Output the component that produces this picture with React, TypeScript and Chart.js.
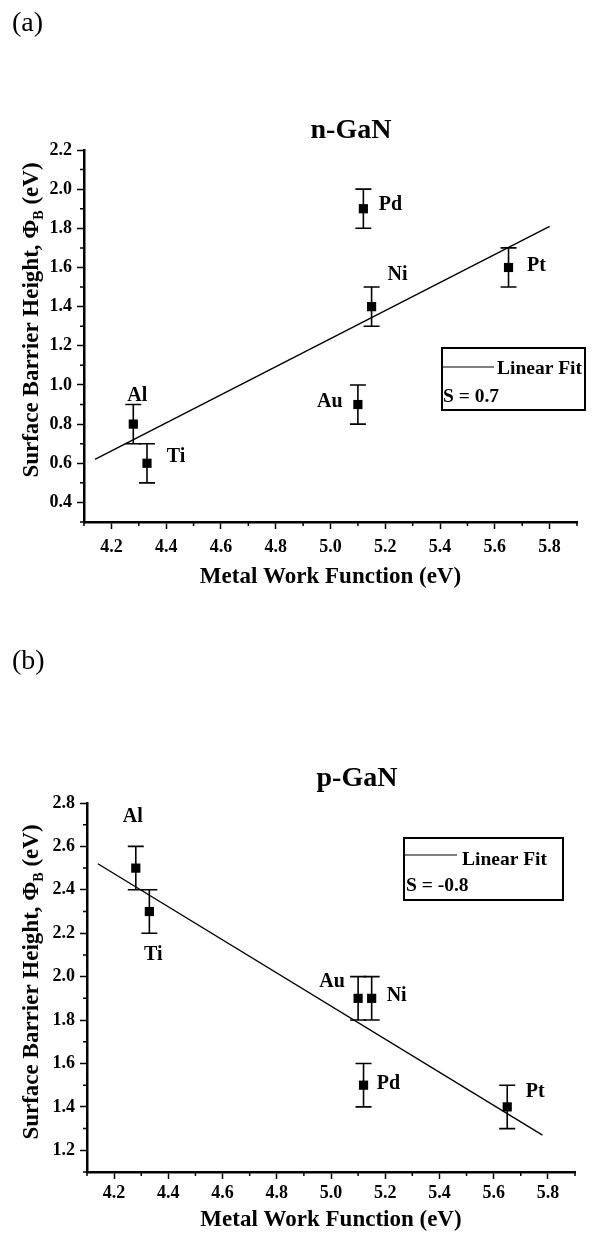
import React, { useEffect, useRef } from 'react';
import { Chart, registerables } from 'chart.js';

Chart.register(...registerables);

// ---------- data ----------
const metals = ['Al', 'Ti', 'Au', 'Pd', 'Ni', 'Pt'];

const nWorkFunction = [4.28, 4.33, 5.1, 5.12, 5.15, 5.65];
const nBarrier = [0.8, 0.6, 0.9, 1.9, 1.4, 1.6];
const nError = [0.1, 0.1, 0.1, 0.1, 0.1, 0.1];
const nFitX = [4.14, 5.8];
const nFitY = [0.62, 1.81];
const nSlope = 'S = 0.7';
const nTitle = 'n-GaN';
const nYRange = [0.3, 2.2];

const pWorkFunction = [4.28, 4.33, 5.1, 5.12, 5.15, 5.65];
const pBarrier = [2.5, 2.3, 1.9, 1.5, 1.9, 1.4];
const pError = [0.1, 0.1, 0.1, 0.1, 0.1, 0.1];
const pFitX = [4.14, 5.78];
const pFitY = [2.52, 1.27];
const pSlope = 'S = -0.8';
const pTitle = 'p-GaN';
const pYRange = [1.1, 2.8];

const xRange = [4.1, 5.9];
const tickStep = 0.1;
const xTitle = 'Metal Work Function (eV)';
const yTitleMain = 'Surface Barrier Height, \u03A6';
const yTitleSub = 'B';
const yTitleTail = ' (eV)';
const legendText = 'Linear Fit';

// ---------- layout (pixels, not data) ----------
const SERIF = '"Liberation Serif", "Times New Roman", serif';
const nLabelOffsets = [[4, -28], [29, -6], [-28, -3], [27, -4], [26, -32], [28, -2]];
const pLabelOffsets = [[-3, -51], [4, 43], [-26, -17], [25, -1], [25, -3], [28, -15]];

type Layout = {
  padding: { left: number; right: number; top: number; bottom: number };
  yWidth: number;
  xHeight: number;
  xTickPad: number;
  xTitlePad: number;
  panelLetter: string;
  letterBaseline: number;
  titleX: number;
  titleBaseline: number;
  yTitleX: number;
  yTitleY: number;
  legendBox: [number, number, number, number];
  legendLineY: number;
  legendLineX: [number, number];
  legendTextX: number;
  legendTextBase: number;
  slopeX: number;
  slopeBase: number;
  labelOffsets: number[][];
};

const layoutA: Layout = {
  padding: { left: 4, right: 23, top: 150, bottom: 20 },
  yWidth: 80,
  xHeight: 75,
  xTickPad: 8,
  xTitlePad: 6,
  panelLetter: '(a)',
  letterBaseline: 31,
  titleX: 351,
  titleBaseline: 138,
  yTitleX: 32,
  yTitleY: 320,
  legendBox: [442, 348, 585, 410],
  legendLineY: 367,
  legendLineX: [443, 494],
  legendTextX: 497,
  legendTextBase: 374,
  slopeX: 443,
  slopeBase: 402,
  labelOffsets: nLabelOffsets,
};

const layoutB: Layout = {
  padding: { left: 7, right: 25, top: 186, bottom: 0 },
  yWidth: 80,
  xHeight: 62,
  xTickPad: 4,
  xTitlePad: 0,
  panelLetter: '(b)',
  letterBaseline: 52,
  titleX: 357,
  titleBaseline: 169,
  yTitleX: 32,
  yTitleY: 365,
  legendBox: [404, 221, 563, 283],
  legendLineY: 238,
  legendLineX: [405, 457],
  legendTextX: 462,
  legendTextBase: 248,
  slopeX: 406,
  slopeBase: 274,
  labelOffsets: pLabelOffsets,
};

const isMajor = (v: number) => Math.round(v * 10) % 2 === 0;

type Spec = {
  wf: number[];
  barrier: number[];
  err: number[];
  fitX: number[];
  fitY: number[];
  slope: string;
  title: string;
  yRange: number[];
  layout: Layout;
};

function makeConfig(spec: Spec): any {
  const L = spec.layout;
  const overlay = {
    id: 'overlay',
    beforeDatasetsDraw(chart: any) {
      const { ctx, scales } = chart;
      const x = scales.x;
      const y = scales.y;
      ctx.save();
      ctx.strokeStyle = '#000';
      ctx.lineWidth = 1.6;
      spec.wf.forEach((wx, i) => {
        const px = x.getPixelForValue(wx);
        const top = y.getPixelForValue(spec.barrier[i] + spec.err[i]);
        const bot = y.getPixelForValue(spec.barrier[i] - spec.err[i]);
        ctx.beginPath();
        ctx.moveTo(px, top);
        ctx.lineTo(px, bot);
        ctx.moveTo(px - 8, top);
        ctx.lineTo(px + 8, top);
        ctx.moveTo(px - 8, bot);
        ctx.lineTo(px + 8, bot);
        ctx.stroke();
      });
      ctx.restore();
    },
    afterDraw(chart: any) {
      const { ctx, scales, chartArea } = chart;
      const x = scales.x;
      const y = scales.y;
      ctx.save();
      // minor ticks
      ctx.strokeStyle = '#000';
      ctx.lineWidth = 1.5;
      ctx.beginPath();
      x.ticks.forEach((t: any) => {
        if (!isMajor(t.value)) {
          const px = x.getPixelForValue(t.value);
          ctx.moveTo(px, chartArea.bottom);
          ctx.lineTo(px, chartArea.bottom + 4);
        }
      });
      y.ticks.forEach((t: any) => {
        if (!isMajor(t.value)) {
          const py = y.getPixelForValue(t.value);
          ctx.moveTo(chartArea.left - 4, py);
          ctx.lineTo(chartArea.left, py);
        }
      });
      ctx.stroke();

      ctx.fillStyle = '#000';
      // panel letter
      ctx.font = `28px ${SERIF}`;
      ctx.textAlign = 'left';
      ctx.textBaseline = 'alphabetic';
      ctx.fillText(L.panelLetter, 12, L.letterBaseline);

      // title
      ctx.font = `bold 28px ${SERIF}`;
      ctx.textAlign = 'center';
      ctx.fillText(spec.title, L.titleX, L.titleBaseline);

      // y-axis title with subscript
      ctx.save();
      ctx.translate(L.yTitleX, L.yTitleY);
      ctx.rotate(-Math.PI / 2);
      const mainFont = `bold 23px ${SERIF}`;
      const subFont = `bold 14px ${SERIF}`;
      ctx.textAlign = 'left';
      ctx.textBaseline = 'middle';
      ctx.font = mainFont;
      const w1 = ctx.measureText(yTitleMain).width;
      const w3 = ctx.measureText(yTitleTail).width;
      ctx.font = subFont;
      const w2 = ctx.measureText(yTitleSub).width;
      let sx = -(w1 + w2 + w3) / 2;
      ctx.font = mainFont;
      ctx.fillText(yTitleMain, sx, 0);
      sx += w1;
      ctx.font = subFont;
      ctx.fillText(yTitleSub, sx, 7);
      sx += w2;
      ctx.font = mainFont;
      ctx.fillText(yTitleTail, sx, 0);
      ctx.restore();

      // metal labels
      ctx.font = `bold 20px ${SERIF}`;
      ctx.textAlign = 'center';
      ctx.textBaseline = 'middle';
      metals.forEach((m, i) => {
        const px = x.getPixelForValue(spec.wf[i]);
        const py = y.getPixelForValue(spec.barrier[i]);
        const [dx, dy] = L.labelOffsets[i];
        ctx.fillText(m, px + dx, py + dy);
      });

      // legend box
      const [bx0, by0, bx1, by1] = L.legendBox;
      ctx.lineWidth = 2;
      ctx.strokeRect(bx0, by0, bx1 - bx0, by1 - by0);
      ctx.lineWidth = 1.2;
      ctx.beginPath();
      ctx.moveTo(L.legendLineX[0], L.legendLineY);
      ctx.lineTo(L.legendLineX[1], L.legendLineY);
      ctx.stroke();
      ctx.font = `bold 19.5px ${SERIF}`;
      ctx.textAlign = 'left';
      ctx.textBaseline = 'alphabetic';
      ctx.fillText(legendText, L.legendTextX, L.legendTextBase);
      ctx.fillText(spec.slope, L.slopeX, L.slopeBase);
      ctx.restore();
    },
  };

  const tickFont = { family: SERIF, size: 18, weight: 'bold' as const };
  const gridCommon = {
    display: true,
    drawOnChartArea: false,
    drawTicks: true,
    tickLength: 7,
    tickWidth: 1.5,
    tickColor: (c: any) => (c.tick && isMajor(c.tick.value) ? '#000' : 'rgba(0,0,0,0)'),
  };

  return {
    type: 'scatter',
    data: {
      datasets: [
        {
          label: 'data',
          data: spec.wf.map((v, i) => ({ x: v, y: spec.barrier[i] })),
          pointStyle: 'rect',
          pointRadius: 6.5,
          backgroundColor: '#000',
          borderColor: '#000',
          borderWidth: 0,
          showLine: false,
        },
        {
          label: legendText,
          data: spec.fitX.map((v, i) => ({ x: v, y: spec.fitY[i] })),
          showLine: true,
          pointRadius: 0,
          borderColor: '#000',
          borderWidth: 1.4,
          fill: false,
        },
      ],
    },
    options: {
      animation: false,
      responsive: false,
      devicePixelRatio: 1,
      layout: { padding: L.padding },
      plugins: { legend: { display: false }, tooltip: { enabled: false } },
      scales: {
        x: {
          type: 'linear',
          min: xRange[0],
          max: xRange[1],
          afterFit: (s: any) => {
            s.height = L.xHeight;
          },
          border: { display: true, color: '#000', width: 2.5 },
          grid: gridCommon,
          ticks: {
            stepSize: tickStep,
            autoSkip: false,
            maxRotation: 0,
            padding: L.xTickPad,
            color: '#000',
            font: tickFont,
            callback: (v: number) => (isMajor(v) ? Number(v).toFixed(1) : ''),
          },
          title: {
            display: true,
            text: xTitle,
            color: '#000',
            font: { family: SERIF, size: 23, weight: 'bold' },
            padding: { top: 0, bottom: L.xTitlePad },
          },
        },
        y: {
          type: 'linear',
          min: spec.yRange[0],
          max: spec.yRange[1],
          afterFit: (s: any) => {
            s.width = L.yWidth;
          },
          border: { display: true, color: '#000', width: 2.5 },
          grid: gridCommon,
          ticks: {
            stepSize: tickStep,
            autoSkip: false,
            padding: 5,
            color: '#000',
            font: tickFont,
            callback: (v: number) => (isMajor(v) ? Number(v).toFixed(1) : ''),
          },
        },
      },
    },
    plugins: [overlay],
  };
}

function Panel({ spec }: { spec: Spec }) {
  const ref = useRef<HTMLCanvasElement>(null);
  useEffect(() => {
    if (!ref.current) return;
    const chart = new Chart(ref.current, makeConfig(spec));
    return () => chart.destroy();
  }, [spec]);
  return <canvas ref={ref} width={600} height={617} style={{ display: 'block', width: 600, height: 617 }} />;
}

const specA: Spec = {
  wf: nWorkFunction,
  barrier: nBarrier,
  err: nError,
  fitX: nFitX,
  fitY: nFitY,
  slope: nSlope,
  title: nTitle,
  yRange: nYRange,
  layout: layoutA,
};

const specB: Spec = {
  wf: pWorkFunction,
  barrier: pBarrier,
  err: pError,
  fitX: pFitX,
  fitY: pFitY,
  slope: pSlope,
  title: pTitle,
  yRange: pYRange,
  layout: layoutB,
};

export default function App() {
  return (
    <div style={{ position: 'absolute', left: 0, top: 0, width: 600, height: 1234, background: '#fff' }}>
      <Panel spec={specA} />
      <Panel spec={specB} />
    </div>
  );
}
